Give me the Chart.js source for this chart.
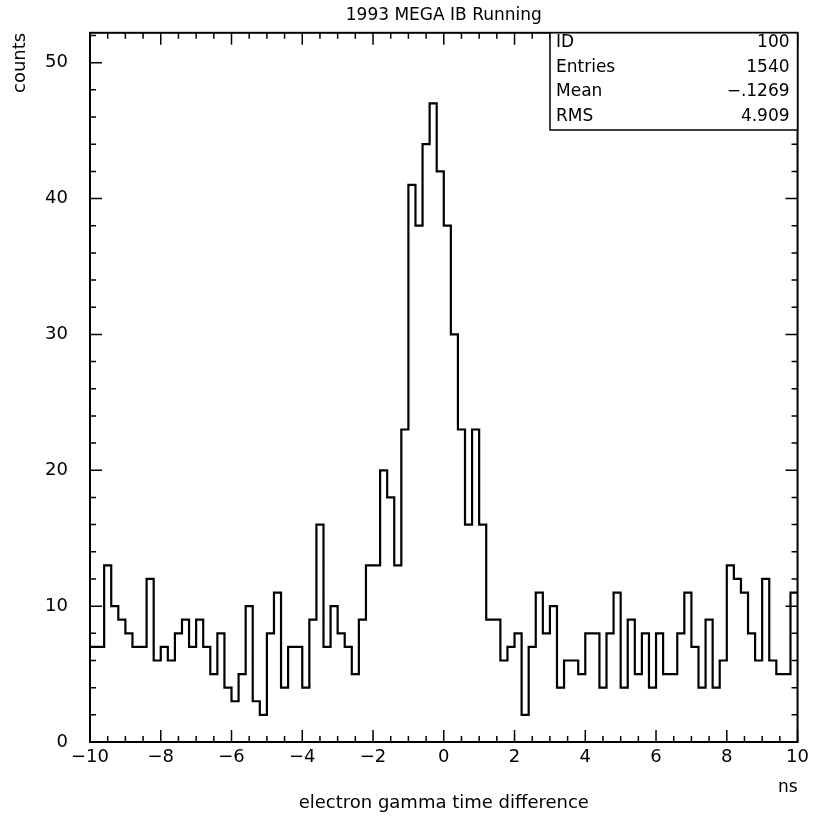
<!DOCTYPE html>
<html>
<head>
<meta charset="utf-8">
<script src="https://cdn.jsdelivr.net/npm/chart.js@4/dist/chart.umd.min.js"></script>
<style>
  body { margin: 0; background: #fff; }
  canvas { display: block; }
</style>
</head>
<body>
<canvas id="hist" width="814" height="818"></canvas>
<script>
// histogram: 100 bins of 0.2 ns from -10 to 10
var xMin = -10;
var xMax = 10;
var binWidth = 0.2;
var counts = [
  7, 7, 13, 10, 9, 8, 7, 7, 12, 6,
  7, 6, 8, 9, 7, 9, 7, 5, 8, 4,
  3, 5, 10, 3, 2, 8, 11, 4, 7, 7,
  4, 9, 16, 7, 10, 8, 7, 5, 9, 13,
  13, 20, 18, 13, 23, 41, 38, 44, 47, 42,
  38, 30, 23, 16, 23, 16, 9, 9, 6, 7,
  8, 2, 7, 11, 8, 10, 4, 6, 6, 5,
  8, 8, 4, 8, 11, 4, 9, 5, 8, 4,
  8, 5, 5, 8, 11, 7, 4, 9, 4, 6,
  13, 12, 11, 8, 6, 12, 6, 5, 5, 11
];
var yMax = 52.2;

// stats box
var statLabels = ["ID", "Entries", "Mean", "RMS"];
var statValues = ["100", "1540", "\u2212.1269", "4.909"];

var FONT = "'DejaVu Sans', sans-serif";

// left bin edges -> points for a step line
var points = counts.map(function (c, i) {
  return { x: xMin + i * binWidth, y: c };
});
points.push({ x: xMax, y: counts[counts.length - 1] });

function minus(v) {
  return String(v).replace('-', '\u2212');
}

// frame, inward ticks on all four sides, stats box, "ns" unit
var framePlugin = {
  id: 'frame',
  afterDatasetsDraw: function (chart) {
    var ctx = chart.ctx;
    var a = chart.chartArea;
    var xs = chart.scales.x, ys = chart.scales.y;
    ctx.save();
    ctx.strokeStyle = '#000';
    ctx.lineWidth = 2;
    ctx.strokeRect(a.left, a.top, a.right - a.left, a.bottom - a.top);

    ctx.lineWidth = 1.5;
    ctx.beginPath();
    for (var k = 0; k <= 40; k++) {
      var v = xMin + k * 0.5;
      var px = xs.getPixelForValue(v);
      var len = (k % 4 === 0) ? 12 : 6;
      ctx.moveTo(px, a.bottom); ctx.lineTo(px, a.bottom - len);
      ctx.moveTo(px, a.top); ctx.lineTo(px, a.top + len);
    }
    for (var j = 0; j * 2 <= yMax; j++) {
      var py = ys.getPixelForValue(j * 2);
      var l2 = (j % 5 === 0) ? 12 : 6;
      ctx.moveTo(a.left, py); ctx.lineTo(a.left + l2, py);
      ctx.moveTo(a.right, py); ctx.lineTo(a.right - l2, py);
    }
    ctx.stroke();

    // stats box
    var boxLeft = 550, boxBottom = 130;
    ctx.lineWidth = 1.5;
    ctx.fillStyle = '#fff';
    ctx.fillRect(boxLeft, a.top, a.right - boxLeft, boxBottom - a.top);
    ctx.strokeRect(boxLeft, a.top, a.right - boxLeft, boxBottom - a.top);
    ctx.fillStyle = '#000';
    ctx.font = '17px ' + FONT;
    ctx.textBaseline = 'middle';
    for (var r = 0; r < statLabels.length; r++) {
      var ty = 43 + r * 24.5;
      ctx.textAlign = 'left';
      ctx.fillText(statLabels[r], boxLeft + 6, ty);
      ctx.textAlign = 'right';
      ctx.fillText(statValues[r], a.right - 8, ty);
    }

    ctx.font = '17px ' + FONT;
    ctx.textAlign = 'right';
    ctx.fillText('ns', a.right, 788);
    ctx.restore();
  }
};

var ctx = document.getElementById('hist').getContext('2d');
var chart = new Chart(ctx, {
  type: 'line',
  data: {
    datasets: [{
      data: points,
      stepped: 'before',
      borderColor: '#000',
      borderWidth: 2.2,
      pointRadius: 0,
      fill: false
    }]
  },
  options: {
    responsive: false,
    animation: false,
    devicePixelRatio: 1,
    layout: { padding: { left: 0, right: 16, top: 0, bottom: 0 } },
    plugins: {
      legend: { display: false },
      tooltip: { enabled: false },
      title: {
        display: true,
        fullSize: false,
        text: '1993 MEGA IB Running',
        color: '#000',
        font: { family: FONT, size: 17, weight: 'normal' },
        padding: { top: 5, bottom: 7 }
      }
    },
    scales: {
      x: {
        type: 'linear',
        min: xMin,
        max: xMax,
        grid: { display: false, drawTicks: false },
        border: { display: false },
        afterFit: function (s) { s.height = 76; },
        ticks: {
          stepSize: 2,
          autoSkip: false,
          maxRotation: 0,
          padding: 5,
          color: '#000',
          font: { family: FONT, size: 18 },
          callback: function (v) { return minus(v); }
        },
        title: {
          display: true,
          text: 'electron gamma time difference',
          color: '#000',
          font: { family: FONT, size: 18 },
          padding: { top: 0, bottom: 4 }
        }
      },
      y: {
        min: 0,
        max: yMax,
        grid: { display: false, drawTicks: false },
        border: { display: false },
        afterFit: function (s) { s.width = 90; },
        ticks: {
          stepSize: 10,
          includeBounds: false,
          padding: 22,
          color: '#000',
          font: { family: FONT, size: 18 }
        },
        title: {
          display: true,
          text: 'counts',
          align: 'end',
          color: '#000',
          font: { family: FONT, size: 18 },
          padding: { top: 10, bottom: 0 }
        }
      }
    }
  },
  plugins: [framePlugin]
});
</script>
</body>
</html>
